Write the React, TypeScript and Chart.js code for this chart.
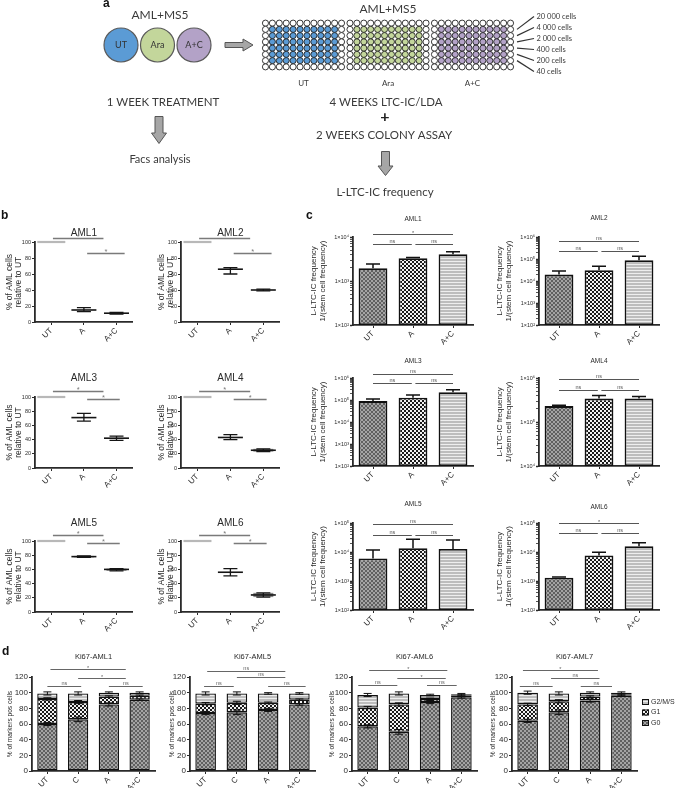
import React, { useEffect, useRef } from "react";
import { Chart, registerables } from "chart.js";

Chart.register(...registerables);

const SANS = "'Liberation Sans', Arial, Helvetica, sans-serif";
const CAL = "Lato, 'Open Sans', 'Liberation Sans', sans-serif";
const INK = "#2a2a2a";
Chart.defaults.font.family = SANS;
Chart.defaults.color = INK;

// ================= Panel a (schematic) =================
const A_GROUPS = ["UT", "Ara", "A+C"];
const A_COLORS = ["#5b9bd5", "#c3d69b", "#b3a2c7"];
const A_CELLS = ["20 000 cells", "4 000 cells", "2 000 cells", "400 cells", "200 cells", "40 cells"];
const A_LEFT_STEPS = ["1 WEEK TREATMENT", "Facs analysis"];
const A_RIGHT_STEPS = ["4 WEEKS LTC-IC/LDA", "+", "2 WEEKS COLONY ASSAY", "L-LTC-IC frequency"];

// ================= Panel b =================
const B_CATS = ["UT", "A", "A+C"];
const B_AML1_MEAN = [100, 15, 11];
const B_AML1_LO = [100, 13, 10];
const B_AML1_HI = [100, 18, 12];
const B_AML1_BOX = [0, 0, 0];
const B_AML2_MEAN = [100, 66, 40];
const B_AML2_LO = [100, 60, 39];
const B_AML2_HI = [100, 68, 41];
const B_AML2_BOX = [0, 0, 0];
const B_AML3_MEAN = [100, 71, 42];
const B_AML3_LO = [100, 66, 39];
const B_AML3_HI = [100, 77, 45];
const B_AML3_BOX = [0, 0, 0];
const B_AML4_MEAN = [100, 43, 25];
const B_AML4_LO = [100, 40, 23];
const B_AML4_HI = [100, 47, 27];
const B_AML4_BOX = [0, 0, 1];
const B_AML5_MEAN = [100, 78, 60];
const B_AML5_LO = [100, 77, 58];
const B_AML5_HI = [100, 79, 61];
const B_AML5_BOX = [0, 1, 1];
const B_AML6_MEAN = [100, 56, 24];
const B_AML6_LO = [100, 51, 21];
const B_AML6_HI = [100, 61, 27];
const B_AML6_BOX = [0, 0, 1];
// [from category, to category, level (%), label]
const B_SIG_ROW1 = [[0.05, 1.6, 105.5, "*"], [1.1, 2.25, 86, "*"]];
const B_SIG_ROWS = [[0.05, 1.6, 108, "*"], [1.1, 2.1, 96.5, "*"]];

// ================= Panel c =================
const C_CATS = ["UT", "A", "A+C"];
const C_AML1 = [1950, 3300, 4050];
const C_AML1_ERR = [2450, 3420, 4650];
const C_AML1_RANGE = [1e2, 1e4];
const C_AML2 = [19500, 31000, 87000];
const C_AML2_ERR = [28800, 47000, 135000];
const C_AML2_RANGE = [1e2, 1e6];
const C_AML3 = [89000, 126000, 224000];
const C_AML3_ERR = [112000, 170000, 295000];
const C_AML3_RANGE = [1e2, 1e6];
const C_AML4 = [230000, 340000, 340000];
const C_AML4_ERR = [240000, 400000, 380000];
const C_AML4_RANGE = [1e4, 1e6];
const C_AML5 = [6000, 13400, 12700];
const C_AML5_ERR = [11800, 27600, 25700];
const C_AML5_RANGE = [1e2, 1e5];
const C_AML6 = [1290, 7600, 15900];
const C_AML6_ERR = [1380, 9800, 21000];
const C_AML6_RANGE = [1e2, 1e5];
const C_SIG_AML1 = [[0, 2, 11500, "*"], [0, 0.97, 6800, "ns"], [1.06, 2, 6800, "ns"]];
const C_SIG_AML2 = [[0, 2, 660000, "ns"], [0, 0.97, 230000, "ns"], [1.06, 2, 230000, "ns"]];
const C_SIG_AML3 = [[0, 2, 1600000, "ns"], [0, 0.97, 590000, "ns"], [1.06, 2, 590000, "ns"]];
const C_SIG_AML4 = [[0, 2, 935000, "ns"], [0, 0.97, 535000, "ns"], [1.06, 2, 535000, "ns"]];
const C_SIG_AML5 = [[0, 2, 89000, "ns"], [0, 0.97, 38500, "ns"], [1.06, 2, 38500, "ns"]];
const C_SIG_AML6 = [[0, 2, 98000, "*"], [0, 0.97, 44000, "ns"], [1.06, 2, 44000, "ns"]];

// ================= Panel d =================
const D_CATS = ["UT", "C", "A", "A+C"];
const D_SERIES = ["G0", "G1", "G2/M/S"];
const D_AML1_G0 = [60, 66, 85, 91];
const D_AML1_G1 = [32, 22, 10, 5];
const D_AML1_G2 = [7, 11, 5, 4];
const D_AML5_G0 = [74, 75, 78, 85];
const D_AML5_G1 = [12, 12, 9, 6];
const D_AML5_G2 = [13, 12, 12, 8];
const D_AML6_G0 = [57, 50, 88, 94];
const D_AML6_G1 = [24, 35, 4, 2];
const D_AML6_G2 = [16, 14, 5, 2];
const D_AML7_G0 = [64, 75, 90, 96];
const D_AML7_G1 = [21, 14, 5, 2];
const D_AML7_G2 = [15, 10, 5, 2];
const D_ERR_G0 = [2, 3, 2, 1];
const D_ERR_G1 = [1.5, 2, 1, 1];
const D_ERR_G2 = [2, 2, 1, 1];
const D_SIG_AML1 = [[0.1, 2.55, 130, "*"], [1, 2.55, 118.5, "*"], [0, 1.1, 108.5, "ns"], [2, 3.1, 108.5, "ns"]];
const D_SIG_AML5 = [[0.05, 2.55, 128, "ns"], [1, 2.55, 119.5, "ns"], [-0.05, 0.9, 108.5, "ns"], [2, 3.2, 108.5, "ns"]];
const D_SIG_AML6 = [[0.05, 2.55, 129, "*"], [0.95, 2.5, 118.5, "*"], [-0.3, 0.95, 110, "ns"], [1.9, 2.85, 110, "ns"]];
const D_SIG_AML7 = [[-0.15, 2.25, 129, "*"], [0.75, 2.3, 119, "ns"], [-0.25, 0.8, 109, "ns"], [1.7, 2.7, 109, "ns"]];

// ================= helpers =================
type Box = { l: number; t: number; r: number; b: number; ml: number; mt: number; mr: number; mb: number };

function makeTile(w: number, h: number, draw: (g: CanvasRenderingContext2D) => void) {
  const c = document.createElement("canvas");
  c.width = w;
  c.height = h;
  draw(c.getContext("2d") as CanvasRenderingContext2D);
  return c;
}

function makePatterns(ctx: CanvasRenderingContext2D) {
  const cross = makeTile(4, 4, (g) => {
    g.fillStyle = "#a4a4a4";
    g.fillRect(0, 0, 4, 4);
    g.fillStyle = "#606060";
    for (let i = 0; i < 4; i++) {
      g.fillRect(i, i, 1, 1);
      g.fillRect(3 - i, i, 1, 1);
    }
  });
  const check = makeTile(4, 4, (g) => {
    g.fillStyle = "#1a1a1a";
    g.fillRect(0, 0, 4, 4);
    g.fillStyle = "#f2f2f2";
    g.fillRect(0, 0, 2, 2);
    g.fillRect(2, 2, 2, 2);
  });
  const stripe = makeTile(4, 3, (g) => {
    g.fillStyle = "#bdbdbd";
    g.fillRect(0, 0, 4, 3);
    g.fillStyle = "#eeeeee";
    g.fillRect(0, 2, 4, 1);
  });
  return {
    cross: ctx.createPattern(cross, "repeat"),
    check: ctx.createPattern(check, "repeat"),
    stripe: ctx.createPattern(stripe, "repeat"),
  };
}

function baseOpts(box: Box) {
  return {
    responsive: false,
    maintainAspectRatio: false,
    animation: false,
    devicePixelRatio: 1,
    events: [],
    layout: { padding: { left: 0, top: box.mt, right: box.mr, bottom: 0 } },
    plugins: { legend: { display: false }, tooltip: { enabled: false }, title: { display: false } },
  };
}

function catAxis(box: Box, size: number, extra: any = {}) {
  return {
    type: "category",
    offset: true,
    ...extra,
    grid: { display: true, offset: false, drawOnChartArea: false, drawTicks: true, tickLength: 3, color: INK, lineWidth: 1 },
    border: { display: true, color: INK, width: 1.8 },
    ticks: { autoSkip: false, minRotation: 45, maxRotation: 45, padding: 1, color: INK, font: { family: SANS, size } },
    afterFit: (s: any) => {
      s.height = box.mb;
    },
  };
}

function yTitle(text: any, size: number, lh: number, pad: number) {
  return { display: true, text, color: INK, font: { family: SANS, size, lineHeight: lh }, padding: { top: pad, bottom: 0 } };
}

function decorPlugin(o: { title: string; size: number; dy: number; sigs: any[]; sigSize: number; sigColor: string; sigWidth?: number }) {
  return {
    id: "decor",
    afterDraw(chart: any) {
      const { ctx, chartArea: a, scales } = chart;
      const x = scales.x;
      const y = scales.y;
      ctx.save();
      ctx.fillStyle = INK;
      ctx.font = `${o.size}px ${SANS}`;
      ctx.textAlign = "center";
      ctx.textBaseline = "middle";
      ctx.fillText(o.title, (a.left + a.right) / 2, a.top - o.dy);
      ctx.strokeStyle = o.sigColor;
      ctx.fillStyle = o.sigColor;
      ctx.lineWidth = o.sigWidth || 1;
      ctx.font = `${o.sigSize}px ${SANS}`;
      ctx.textBaseline = "alphabetic";
      for (const s of o.sigs) {
        const x1 = x.getPixelForValue(s[0]);
        const x2 = x.getPixelForValue(s[1]);
        const py = Math.round(y.getPixelForValue(s[2])) + 0.5;
        ctx.beginPath();
        ctx.moveTo(x1, py);
        ctx.lineTo(x2, py);
        ctx.stroke();
        ctx.fillText(s[3], (x1 + x2) / 2, py - (s[3] === "*" ? 0 : 1.5));
      }
      ctx.restore();
    },
  };
}

function rangePlugin(lo: number[], hi: number[], boxed: number[]) {
  return {
    id: "range",
    beforeDatasetsDraw(chart: any) {
      const { ctx, scales } = chart;
      ctx.save();
      boxed.forEach((bx, i) => {
        if (!bx) return;
        const px = scales.x.getPixelForValue(i);
        const y1 = scales.y.getPixelForValue(lo[i]);
        const y2 = scales.y.getPixelForValue(hi[i]);
        ctx.fillStyle = "#8a8a8a";
        ctx.fillRect(px - 10, y2, 20, y1 - y2);
      });
      ctx.restore();
    },
    afterDatasetsDraw(chart: any) {
      const { ctx, scales } = chart;
      ctx.save();
      ctx.strokeStyle = "#151515";
      ctx.lineWidth = 1.3;
      lo.forEach((l, i) => {
        if (hi[i] === l) return;
        const px = scales.x.getPixelForValue(i);
        const y1 = scales.y.getPixelForValue(l);
        const y2 = scales.y.getPixelForValue(hi[i]);
        ctx.beginPath();
        ctx.moveTo(px, y1);
        ctx.lineTo(px, y2);
        ctx.moveTo(px - 7, y1);
        ctx.lineTo(px + 7, y1);
        ctx.moveTo(px - 7, y2);
        ctx.lineTo(px + 7, y2);
        ctx.stroke();
      });
      ctx.restore();
    },
  };
}

function barErrPlugin(err: number[]) {
  return {
    id: "barerr",
    afterDatasetsDraw(chart: any) {
      const { ctx } = chart;
      const y = chart.scales.y;
      const meta = chart.getDatasetMeta(0);
      ctx.save();
      ctx.strokeStyle = "#111";
      ctx.lineWidth = 1.5;
      meta.data.forEach((bar: any, i: number) => {
        const pe = y.getPixelForValue(err[i]);
        ctx.beginPath();
        ctx.moveTo(bar.x, bar.y);
        ctx.lineTo(bar.x, pe);
        ctx.moveTo(bar.x - 7, pe);
        ctx.lineTo(bar.x + 7, pe);
        ctx.stroke();
      });
      ctx.restore();
    },
  };
}

function stackErrPlugin(series: number[][], errs: number[][]) {
  return {
    id: "stackerr",
    afterDatasetsDraw(chart: any) {
      const { ctx } = chart;
      const y = chart.scales.y;
      ctx.save();
      ctx.strokeStyle = "#111";
      ctx.lineWidth = 1;
      for (let j = 0; j < series[0].length; j++) {
        let cum = 0;
        series.forEach((s, i) => {
          cum += s[j];
          const e = errs[i][j];
          const bar: any = chart.getDatasetMeta(i).data[j];
          const y1 = y.getPixelForValue(cum - e);
          const y2 = y.getPixelForValue(cum + e);
          ctx.beginPath();
          ctx.moveTo(bar.x, y1);
          ctx.lineTo(bar.x, y2);
          ctx.moveTo(bar.x - 4, y1);
          ctx.lineTo(bar.x + 4, y1);
          ctx.moveTo(bar.x - 4, y2);
          ctx.lineTo(bar.x + 4, y2);
          ctx.stroke();
        });
      }
      ctx.restore();
    },
  };
}

function legendPlugin() {
  return {
    id: "dlegend",
    afterDraw(chart: any) {
      const { ctx, chartArea: a } = chart;
      const ds = chart.data.datasets.slice().reverse();
      ctx.save();
      ds.forEach((d: any, i: number) => {
        const yy = a.top + 25 + i * 10.5;
        ctx.fillStyle = d.backgroundColor;
        ctx.fillRect(a.right + 5, yy - 3, 7, 6);
        ctx.strokeStyle = "#111";
        ctx.lineWidth = 1;
        ctx.strokeRect(a.right + 5.5, yy - 2.5, 6, 5);
        ctx.fillStyle = INK;
        ctx.font = `7px ${SANS}`;
        ctx.textAlign = "left";
        ctx.textBaseline = "middle";
        ctx.fillText(d.label, a.right + 14, yy);
      });
      ctx.restore();
    },
  };
}

const SUP: Record<string, string> = { "0": "⁰", "1": "¹", "2": "²", "3": "³", "4": "⁴", "5": "⁵", "6": "⁶", "7": "⁷", "8": "⁸", "9": "⁹" };
function powLabel(v: number) {
  const e = Math.log10(v);
  const r = Math.round(e);
  if (Math.abs(e - r) > 1e-6) return "";
  return "1×10" + String(r).split("").map((ch) => SUP[ch]).join("");
}
function logTicks(min: number, max: number) {
  const out: number[] = [];
  const e0 = Math.round(Math.log10(min));
  const e1 = Math.round(Math.log10(max));
  for (let e = e0; e < e1; e++) for (let m = 1; m < 10; m++) out.push(m * Math.pow(10, e));
  out.push(max);
  return out;
}

// ================= chart builders =================
function buildA(_p: any, box: Box) {
  const schematic = {
    id: "schematic",
    afterDraw(chart: any) {
      const g: CanvasRenderingContext2D = chart.ctx;
      g.save();
      const txt = (s: string, x: number, y: number, size: number, color = "#3a3a3a", weight = "400") => {
        g.font = `${weight} ${size}px ${CAL}`;
        g.fillStyle = color;
        g.textAlign = "center";
        g.textBaseline = "middle";
        g.fillText(s, x, y);
      };
      // treatment circles
      txt("AML+MS5", 160, 15, 12);
      const cxs = [121, 157.5, 194];
      A_GROUPS.forEach((_lab, i) => {
        g.beginPath();
        g.arc(cxs[i], 45, 17, 0, Math.PI * 2);
        g.fillStyle = A_COLORS[i];
        g.fill();
        g.lineWidth = 1.2;
        g.strokeStyle = "#5a5a5a";
        g.stroke();
      });
      A_GROUPS.forEach((lab, i) => txt(lab, cxs[i], 45.5, 9, "#333"));
      // arrow right
      g.fillStyle = "#a6a6a6";
      g.strokeStyle = "#555";
      g.lineWidth = 1;
      g.beginPath();
      g.moveTo(225, 42.5);
      g.lineTo(243, 42.5);
      g.lineTo(243, 39);
      g.lineTo(253, 45);
      g.lineTo(243, 51);
      g.lineTo(243, 47.5);
      g.lineTo(225, 47.5);
      g.closePath();
      g.fill();
      g.stroke();
      // plates
      const px = [262, 346.5, 431];
      const pw = 83;
      const pt = 20;
      const ph = 50;
      A_GROUPS.forEach((lab, p) => {
        for (let r = 0; r < 8; r++) {
          for (let c = 0; c < 12; c++) {
            const cx = px[p] + ((c + 0.5) * pw) / 12;
            const cy = pt + ((r + 0.5) * ph) / 8;
            g.beginPath();
            g.arc(cx, cy, 3.05, 0, Math.PI * 2);
            g.fillStyle = r >= 1 && r <= 6 && c >= 1 && c <= 10 ? A_COLORS[p] : "#ffffff";
            g.fill();
            g.lineWidth = 0.9;
            g.strokeStyle = "#222";
            g.stroke();
          }
        }
        txt(lab, px[p] + pw / 2, 83.5, 8);
      });
      txt("AML+MS5", 388, 9, 12);
      // cell number labels
      A_CELLS.forEach((s, i) => {
        const ry = pt + ((i + 1.5) * ph) / 8;
        const ly = 16.5 + i * 11;
        g.beginPath();
        g.moveTo(517, ry);
        g.lineTo(534, ly);
        g.strokeStyle = "#333";
        g.lineWidth = 1.2;
        g.stroke();
        g.font = `7.5px ${CAL}`;
        g.fillStyle = "#3a3a3a";
        g.textAlign = "left";
        g.textBaseline = "middle";
        g.fillText(s, 536.5, ly);
      });
      // left flow
      txt(A_LEFT_STEPS[0], 163, 102, 11.5);
      g.fillStyle = "#a6a6a6";
      g.strokeStyle = "#555";
      g.lineWidth = 1;
      const down = (xc: number, y0: number, yh: number, y1: number) => {
        g.beginPath();
        g.moveTo(xc - 4, y0);
        g.lineTo(xc + 4, y0);
        g.lineTo(xc + 4, yh);
        g.lineTo(xc + 7.5, yh);
        g.lineTo(xc, y1);
        g.lineTo(xc - 7.5, yh);
        g.lineTo(xc - 4, yh);
        g.closePath();
        g.fill();
        g.stroke();
      };
      down(159, 116.5, 133, 143.5);
      txt(A_LEFT_STEPS[1], 160, 159, 11);
      // right flow
      txt(A_RIGHT_STEPS[0], 386, 102.5, 11.5);
      txt(A_RIGHT_STEPS[1], 385, 116.5, 16, "#222", "700");
      txt(A_RIGHT_STEPS[2], 384, 135, 11.5);
      g.fillStyle = "#a6a6a6";
      g.strokeStyle = "#555";
      down(385.5, 151.5, 166, 175.5);
      txt(A_RIGHT_STEPS[3], 385, 192.5, 11.5);
      g.restore();
    },
  };
  return {
    type: "scatter",
    data: { datasets: [] },
    options: { ...baseOpts(box), scales: { x: { display: false }, y: { display: false } } },
    plugins: [schematic],
  };
}

function bBuild(title: string, mean: number[], lo: number[], hi: number[], boxed: number[], sigs: any[], dy: number, pad: number) {
  return (_p: any, box: Box) => ({
    type: "line",
    data: {
      labels: B_CATS,
      datasets: [
        {
          data: mean,
          showLine: false,
          clip: false,
          pointStyle: "line",
          pointRadius: [14, 12.5, 12.5],
          pointBorderWidth: [2.2, 1.6, 1.6],
          pointBorderColor: ["#b8b8b8", "#151515", "#151515"],
          pointBackgroundColor: "#151515",
        },
      ],
    },
    options: {
      ...baseOpts(box),
      scales: {
        x: catAxis(box, 8),
        y: {
          type: "linear",
          min: 0,
          max: 100,
          ticks: { stepSize: 20, padding: 1, color: INK, font: { family: SANS, size: 5.5 } },
          grid: { drawOnChartArea: false, drawTicks: true, tickLength: 3, color: INK, lineWidth: 1 },
          border: { display: true, color: INK, width: 1.8 },
          title: yTitle(["% of AML cells", "relative to UT"], 8.5, 1, pad),
          afterFit: (s: any) => {
            s.width = box.ml;
          },
        },
      },
    },
    plugins: [rangePlugin(lo, hi, boxed), decorPlugin({ title, size: 10, dy, sigs, sigSize: 7.5, sigColor: "#7a7a7a", sigWidth: 1.3 })],
  });
}

function cBuild(title: string, vals: number[], err: number[], range: number[], sigs: any[], dy: number) {
  return (p: any, box: Box) => ({
    type: "bar",
    data: {
      labels: C_CATS,
      datasets: [
        {
          data: vals,
          backgroundColor: [p.cross, p.check, p.stripe],
          borderColor: "#111",
          borderWidth: 1.8,
          borderSkipped: false,
          barPercentage: 0.72,
          categoryPercentage: 1,
        },
      ],
    },
    options: {
      ...baseOpts(box),
      scales: {
        x: catAxis(box, 8),
        y: {
          type: "logarithmic",
          min: range[0],
          max: range[1],
          afterBuildTicks: (s: any) => {
            s.ticks = logTicks(range[0], range[1]).map((v) => ({ value: v, major: powLabel(v) !== "" }));
          },
          ticks: { autoSkip: false, padding: 1, color: INK, font: { family: SANS, size: 5.5 }, callback: (v: any) => powLabel(Number(v)) },
          grid: {
            drawOnChartArea: false,
            drawTicks: true,
            tickLength: 3,
            color: INK,
            tickWidth: (c: any) => (c.tick && c.tick.major ? 1.4 : 0.8),
          },
          border: { display: true, color: INK, width: 1.8 },
          title: yTitle(["L-LTC-IC frequency", "1/(stem cell frequency)"], 8, 1.12, 1.5),
          afterFit: (s: any) => {
            s.width = box.ml;
          },
        },
      },
    },
    plugins: [barErrPlugin(err), decorPlugin({ title, size: 6.5, dy, sigs, sigSize: 5.5, sigColor: "#555" })],
  });
}

function dBuild(title: string, g0: number[], g1: number[], g2: number[], sigs: any[], legend: boolean) {
  return (p: any, box: Box) => {
    const common = { borderColor: "#111", borderWidth: 1.4, borderSkipped: false, barPercentage: 0.66, categoryPercentage: 1 };
    const plugins: any[] = [
      stackErrPlugin([g0, g1, g2], [D_ERR_G0, D_ERR_G1, D_ERR_G2]),
      decorPlugin({ title, size: 7.5, dy: 20, sigs, sigSize: 5.5, sigColor: "#666" }),
    ];
    if (legend) plugins.push(legendPlugin());
    return {
      type: "bar",
      data: {
        labels: D_CATS,
        datasets: [
          { label: D_SERIES[0], data: g0, backgroundColor: p.cross, ...common },
          { label: D_SERIES[1], data: g1, backgroundColor: p.check, ...common },
          { label: D_SERIES[2], data: g2, backgroundColor: p.stripe, ...common },
        ],
      },
      options: {
        ...baseOpts(box),
        scales: {
          x: catAxis(box, 8, { stacked: true }),
          y: {
            type: "linear",
            stacked: true,
            min: 0,
            max: 120,
            ticks: { stepSize: 20, padding: 1, color: INK, font: { family: SANS, size: 8 } },
            grid: { drawOnChartArea: false, drawTicks: true, tickLength: 3, color: INK, lineWidth: 1 },
            border: { display: true, color: INK, width: 1.8 },
            title: yTitle("% of markers pos cells", 6.6, 1.2, 6),
            afterFit: (s: any) => {
              s.width = box.ml;
            },
          },
        },
      },
      plugins,
    };
  };
}

// ================= layout =================
const A_BOX: Box = { l: 0, t: 0, r: 683, b: 200, ml: 0, mt: 0, mr: 0, mb: 0 };
const bb = (l: number, r: number, t: number, b: number, ml: number): Box => ({ l, r, t, b, ml, mt: 28, mr: 6, mb: 26 });
const cb = (l: number, r: number, t: number, b: number): Box => ({ l, r, t, b, ml: 45, mt: 26, mr: 8, mb: 24 });
const db = (l: number, r: number, ml: number, mr: number): Box => ({ l, r, t: 677, b: 771, ml, mt: 26, mr, mb: 17 });

const CHARTS: { box: Box; build: any }[] = [
  { box: A_BOX, build: buildA },
  { box: bb(35, 143, 242, 322, 35), build: bBuild("AML1", B_AML1_MEAN, B_AML1_LO, B_AML1_HI, B_AML1_BOX, B_SIG_ROW1, 9, 5.75) },
  { box: bb(181, 290, 242, 322, 30), build: bBuild("AML2", B_AML2_MEAN, B_AML2_LO, B_AML2_HI, B_AML2_BOX, B_SIG_ROW1, 9, 6.5) },
  { box: bb(35, 143, 397, 468, 35), build: bBuild("AML3", B_AML3_MEAN, B_AML3_LO, B_AML3_HI, B_AML3_BOX, B_SIG_ROWS, 19, 5.75) },
  { box: bb(181, 290, 397, 468, 30), build: bBuild("AML4", B_AML4_MEAN, B_AML4_LO, B_AML4_HI, B_AML4_BOX, B_SIG_ROWS, 19, 6.5) },
  { box: bb(35, 143, 541, 612, 35), build: bBuild("AML5", B_AML5_MEAN, B_AML5_LO, B_AML5_HI, B_AML5_BOX, B_SIG_ROWS, 18, 5.75) },
  { box: bb(181, 290, 541, 612, 30), build: bBuild("AML6", B_AML6_MEAN, B_AML6_LO, B_AML6_HI, B_AML6_BOX, B_SIG_ROWS, 18, 6.5) },
  { box: cb(353, 473, 237, 325), build: cBuild("AML1", C_AML1, C_AML1_ERR, C_AML1_RANGE, C_SIG_AML1, 18) },
  { box: cb(539, 659, 237, 325), build: cBuild("AML2", C_AML2, C_AML2_ERR, C_AML2_RANGE, C_SIG_AML2, 18.5) },
  { box: cb(353, 473, 378, 466), build: cBuild("AML3", C_AML3, C_AML3_ERR, C_AML3_RANGE, C_SIG_AML3, 17) },
  { box: cb(539, 659, 378, 466), build: cBuild("AML4", C_AML4, C_AML4_ERR, C_AML4_RANGE, C_SIG_AML4, 17) },
  { box: cb(353, 473, 523, 610), build: cBuild("AML5", C_AML5, C_AML5_ERR, C_AML5_RANGE, C_SIG_AML5, 19) },
  { box: cb(539, 659, 523, 610), build: cBuild("AML6", C_AML6, C_AML6_ERR, C_AML6_RANGE, C_SIG_AML6, 15.5) },
  { box: db(32, 155, 32, 6), build: dBuild("Ki67-AML1", D_AML1_G0, D_AML1_G1, D_AML1_G2, D_SIG_AML1, false) },
  { box: db(190, 315, 28, 6), build: dBuild("Ki67-AML5", D_AML5_G0, D_AML5_G1, D_AML5_G2, D_SIG_AML5, false) },
  { box: db(352, 477, 30, 6), build: dBuild("Ki67-AML6", D_AML6_G0, D_AML6_G1, D_AML6_G2, D_SIG_AML6, false) },
  { box: db(512, 637, 29, 46), build: dBuild("Ki67-AML7", D_AML7_G0, D_AML7_G1, D_AML7_G2, D_SIG_AML7, true) },
];

const LETTERS = [
  { ch: "a", x: 103, y: -3 },
  { ch: "b", x: 1, y: 208.5 },
  { ch: "c", x: 306, y: 208.5 },
  { ch: "d", x: 2, y: 644.5 },
];

function ChartBox({ box, build }: { box: Box; build: any }) {
  const ref = useRef<HTMLCanvasElement | null>(null);
  const w = box.r - box.l + box.ml + box.mr;
  const h = box.b - box.t + box.mt + box.mb;
  useEffect(() => {
    const cv = ref.current as HTMLCanvasElement;
    const pats = makePatterns(cv.getContext("2d") as CanvasRenderingContext2D);
    const chart = new Chart(cv, build(pats, box));
    return () => chart.destroy();
  }, []);
  return (
    <canvas
      ref={ref}
      width={w}
      height={h}
      style={{ position: "absolute", left: box.l - box.ml, top: box.t - box.mt, width: w, height: h }}
    />
  );
}

export default function App() {
  return (
    <div style={{ position: "absolute", left: 0, top: 0, width: 683, height: 788, background: "#ffffff", overflow: "hidden" }}>
      {CHARTS.map((c, i) => (
        <ChartBox key={i} box={c.box} build={c.build} />
      ))}
      {LETTERS.map((l) => (
        <div
          key={l.ch}
          style={{
            position: "absolute",
            left: l.x,
            top: l.y,
            font: `700 12px ${SANS}`,
            lineHeight: "12px",
            color: "#111",
          }}
        >
          {l.ch}
        </div>
      ))}
    </div>
  );
}
